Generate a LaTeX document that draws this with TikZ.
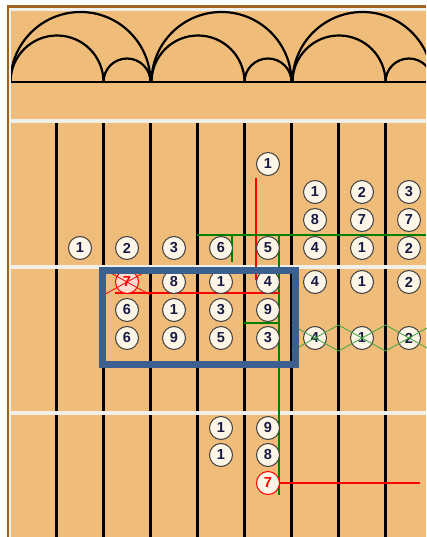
\documentclass[tikz,border=0pt]{standalone}
\usepackage{fontspec}
\newfontfamily\piecefont{Liberation Sans}
\definecolor{board}{RGB}{240,188,122}
\definecolor{rim}{RGB}{160,100,30}
\definecolor{stripe}{RGB}{241,239,233}
\definecolor{ink}{RGB}{22,26,66}
\definecolor{cream}{RGB}{253,245,230}
\definecolor{boxblue}{RGB}{59,95,143}
\definecolor{trackgreen}{RGB}{0,128,0}
\definecolor{softgreen}{RGB}{60,165,60}
\tikzset{
  piece/.style={circle,draw=black!75,fill=cream,line width=1pt,minimum size=23pt,
    inner sep=0pt,text=ink,font=\piecefont\bfseries\fontsize{14.5}{15}\selectfont},
  redpiece/.style={piece,draw=red,text=red},
  wall/.style={line width=2.2pt,black},
  redtrack/.style={line width=2pt,red},
  greentrack/.style={line width=2pt,trackgreen},
  thincross/.style={line width=0.8pt}
}
\begin{document}
\begin{tikzpicture}[x=1pt,y=-1pt]
    \useasboundingbox (0,0) rectangle (426,537);
    % Board frame
    \fill[white] (0,0) rectangle (426,537);
    \fill[rim] (7,5) rectangle (426,537);
    \fill[stripe] (9,8) rectangle (426,537);
    \fill[board] (11,11) rectangle (426,537);

    % Arches along the top
    \begin{scope}
        \clip (11,11) rectangle (426,537);
        \foreach \s in {0,141,282} {
            \draw[wall] (10.5+\s,82) arc (180:360:70);
            \draw[wall] (10.5+\s,82) arc (180:360:46.5);
            \draw[wall] (103.5+\s,82) arc (180:360:23.5);
        }
        \draw[wall] (11,82) -- (426,82);
    \end{scope}

    % Columns and stripes
    \foreach \k in {1,...,8}
        \draw[wall] ({9.5+47*\k},123) -- ({9.5+47*\k},537);
    \foreach \y in {121.5,267,413}
        \fill[stripe] (11,\y-2) rectangle (426,\y+2);

    % Tracks
    \coordinate (redtop) at (256,178);
    \coordinate (greenleft) at (197,235);
    \coordinate (greenright) at (426,235);
    \coordinate (greendown) at (279,495);
    \draw[redtrack] (redtop) -- (256,280);
    \draw[greentrack] (greenleft) -- (greenright);
    \draw[greentrack] (232,235) -- (232,262);
    \draw[greentrack] (279,235) -- (greendown);
    \draw[greentrack] (244,323) -- (279,323);
    \draw[redtrack] (115,293) -- (279,293);
    \draw[redtrack] (279,483) -- (420,483);

    % Upper section
    \node[piece] (up-5) at ({33+47*5},164) {1};
    \foreach \d [count=\i from 6] in {1,2,3}
        \node[piece] (upa-\i) at ({33+47*\i},192) {\d};
    \foreach \d [count=\i from 6] in {8,7,7}
        \node[piece] (upb-\i) at ({33+47*\i},220) {\d};
    \foreach \d [count=\i] in {1,2,3,6,5,4,1,2}
        \node[piece] (upc-\i) at ({33+47*\i},248) {\d};

    % Middle section
    \node[redpiece,fill=red!10!cream] (mida-2) at ({33+47*2},282) {7};
    \foreach \d [count=\i from 3] in {8,1,4,4,1,2}
        \node[piece] (mida-\i) at ({33+47*\i},282) {\d};
    \foreach \d [count=\i from 2] in {6,1,3,9}
        \node[piece] (midb-\i) at ({33+47*\i},310) {\d};
    \foreach \d [count=\i from 2] in {6,9,5,3,4,1,2}
        \node[piece] (midc-\i) at ({33+47*\i},338) {\d};

    % Crossed pieces
    \draw[thincross,red] (103.5,269) -- (150.5,295) (103.5,295) -- (150.5,269);
    \draw[thincross,softgreen] (291.5,325) -- (338.5,351) -- (385.5,325) -- (432.5,351);
    \draw[thincross,softgreen] (291.5,351) -- (338.5,325) -- (385.5,351) -- (432.5,325);

    % Lower section
    \foreach \d [count=\i from 4] in {1,9}
        \node[piece] (lowa-\i) at ({33+47*\i},428) {\d};
    \foreach \d [count=\i from 4] in {1,8}
        \node[piece] (lowb-\i) at ({33+47*\i},455) {\d};
    \node[redpiece] (lowc-5) at ({33+47*5},483) {7};

    % Selection box
    \draw[boxblue,line width=7pt] (102.5,270.5) rectangle (295.5,364.5);
\end{tikzpicture}
\end{document}
